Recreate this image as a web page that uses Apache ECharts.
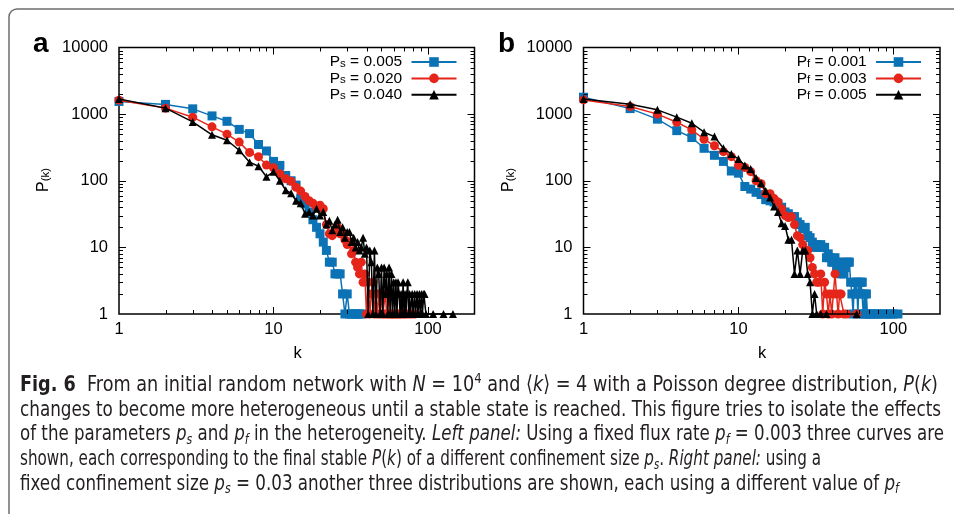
<!DOCTYPE html>
<html>
<head>
<meta charset="utf-8">
<script src="https://cdn.jsdelivr.net/npm/echarts@6/dist/echarts.min.js"></script>
<style>
  html, body { margin: 0; padding: 0; background: #fff; }
  #chart { width: 954px; height: 514px; }
</style>
</head>
<body>
<div id="chart"></div>
<script>
// Degree distributions P(k): number of nodes with degree k (N = 10^4)

// Panel a: fixed p_f = 0.003, varying p_s
const kA1 = [1,2,3,4,5,6,7,8,9,10,11,12,13,14,15,16,17,18,19,20,21,22,23,24,25,26,27,28,29,30,31,32,33,34,35,36,37];
const pA1 = [1550,1400,1200,940,780,590,510,350,280,195,170,120,100,86,55,45,34,26,20,16,12,9,6,6,4,4,4,2,1,2,1,1,1,1,1,1,1];

const kA2 = [1,2,3,4,5,6,7,8,9,10,11,12,13,14,15,16,17,18,19,20,21,22,23,24,25,26,27,28,29,30,
             31,32,33,34,35,36,37,38,39,40,41,42,43,44,45,46,47,48,49,50,51,52,53,54,55,56,57,58,59,60,
             62,63,65,66,68,70,72,75,78,82];
const pA2 = [1620,1230,900,645,500,380,265,230,172,157,127,107,98,80,70,58,50,46,40,43,38,22,16,15,17,20,16,16,13,11,
             12,8,9,6,5,4,6,3,4,1,3,1,2,3,1,2,1,2,1,2,1,1,2,1,1,2,1,1,1,1,
             1,1,1,1,1,1,1,1,1,1];

const kA3 = [1,2,3,4,5,6,7,8,9,10,11,12,13,14,15,16,17,18,19,20,21,22,23,24,25,26,27,28,29,30,
             31,32,33,34,35,36,37,38,39,40,41,42,43,44,45,46,47,48,49,50,51,52,53,54,55,56,57,58,59,60,
             61,62,63,64,65,66,67,68,69,70,71,72,73,74,75,76,77,79,80,82,83,85,86,88,89,91,92,94,95,97,
             108,126,145];
const pA3 = [1690,1230,765,490,405,287,190,165,115,136,100,72,65,50,46,32,34,30,38,30,34,22,25,18,22,26,17,20,14,17,
             17,12,14,10,12,9,10,14,8,10,1,9,6,1,9,1,5,4,1,5,1,5,2,4,1,5,1,4,1,3,
             1,3,1,3,2,1,2,1,3,1,2,1,2,3,1,2,1,2,1,2,1,2,1,2,1,2,1,2,2,1,
             1,1,1];

// Panel b: fixed p_s = 0.03, varying p_f
const kB1 = [1,2,3,4,5,6,7,8,9,10,11,12,13,14,15,16,17,18,19,20,21,22,23,24,25,26,27,28,29,30,
             31,32,33,34,35,36,37,38,39,40,41,42,43,44,45,46,47,48,49,50,51,52,53,54,55,56,57,58,59,60,
             61,62,63,64,65,66,67,68,70,72,75,78,80,84,88,92,96,100,107];
const pB1 = [1795,1210,840,565,445,307,241,195,140,130,82,75,67,62,52,50,48,45,40,34,32,29,29,24,22,19,20,15,14,12,
             10,11,10,11,10,10,7,8,7,6,6,7,5,6,6,4,5,4,5,6,6,6,3,2,1,3,2,3,1,3,
             2,3,3,1,2,1,2,1,1,1,1,1,1,1,1,1,1,1,1];

const kB2 = [1,2,3,4,5,6,7,8,9,10,11,12,13,14,15,16,17,18,19,20,21,22,23,24,25,26,27,28,29,30,
             31,32,33,34,35,36,37,38,39,40,41,42,43,44,45,46,48,50,58];
const pB2 = [1635,1300,1000,755,580,420,335,273,230,170,158,137,100,90,64,64,54,48,38,30,28,29,22,15,14,11,9,9,7,5,
             4,3,3,4,1,3,2,1,2,1,2,4,2,1,2,2,1,1,1];

const kB3 = [1,2,3,4,5,6,7,8,9,10,11,12,13,14,15,16,17,18,19,20,21,22,23,24,25,26,27,28,29,30,31,32,34,37,58];
const pB3 = [1690,1410,1160,900,730,535,460,307,252,212,169,150,110,92,70,56,41,34,23,21,13,13,4,9,4,9,9,4,3,1,2,1,1,1,1];

// Legend labels
const legendA = ['0.005', '0.020', '0.040'];
const legendB = ['0.001', '0.003', '0.005'];

// Axis ranges and tick values (log-log)
const X_MIN = 1, X_MAX = 200, Y_MIN = 1, Y_MAX = 10000;
const xTickVals = [1,2,3,4,5,6,7,8,9,10,20,30,40,50,60,70,80,90,100,200];
const yTickVals = [1,2,3,4,5,6,7,8,9,10,20,30,40,50,60,70,80,90,
                   100,200,300,400,500,600,700,800,900,1000,2000,3000,4000,5000,6000,7000,8000,9000,10000];

const BLUE = '#0b72b5', RED = '#e6251a', BLACK = '#000000';
const AX_FONT = 'Liberation Sans, Arial, Helvetica, sans-serif';
const CAP_FONT = 'Liberation Sans Narrow, DejaVu Sans Condensed, Liberation Sans, sans-serif';
const TICK_FONT_SIZE = 16.5;

function zip(ks, ps) { return ks.map((k, i) => [k, ps[i]]); }
function isDecade(v) { const l = Math.log10(v); return Math.abs(l - Math.round(l)) < 1e-6; }

const chart = echarts.init(document.getElementById('chart'), null, { renderer: 'canvas' });

const grids = [
  { left: 119, top: 47.5, width: 355.5, height: 266.5 },
  { left: 583.5, top: 47.5, width: 356.5, height: 266.5 }
];

// inward major/minor ticks on all four sides of a panel
function tickRenderer(params, api) {
  const lb = api.coord([X_MIN, Y_MIN]);
  const rt = api.coord([X_MAX, Y_MAX]);
  const left = lb[0], bottom = lb[1], right = rt[0], top = rt[1];
  const st = { stroke: '#000', lineWidth: 1 };
  const children = [];
  xTickVals.forEach(v => {
    if (v === X_MIN || v === X_MAX) return;
    const px = Math.round(api.coord([v, Y_MIN])[0]) + 0.5;
    const len = isDecade(v) ? 7 : 4;
    children.push({ type: 'line', shape: { x1: px, y1: bottom, x2: px, y2: bottom - len }, style: st });
    children.push({ type: 'line', shape: { x1: px, y1: top, x2: px, y2: top + len }, style: st });
  });
  yTickVals.forEach(v => {
    if (v === Y_MIN || v === Y_MAX) return;
    const py = Math.round(api.coord([X_MIN, v])[1]) + 0.5;
    const len = isDecade(v) ? 7 : 4;
    children.push({ type: 'line', shape: { x1: left, y1: py, x2: left + len, y2: py }, style: st });
    children.push({ type: 'line', shape: { x1: right, y1: py, x2: right - len, y2: py }, style: st });
  });
  return { type: 'group', children };
}

function xAxisCfg(gi) {
  return {
    type: 'log', logBase: 10, gridIndex: gi, min: X_MIN, max: X_MAX,
    axisLine: { show: false }, axisTick: { show: false }, splitLine: { show: false },
    axisLabel: {
      margin: 7, fontSize: TICK_FONT_SIZE, fontFamily: AX_FONT, color: '#000',
      formatter: v => isDecade(v) ? String(Math.round(v)) : ''
    }
  };
}
function yAxisCfg(gi) {
  return {
    type: 'log', logBase: 10, gridIndex: gi, min: Y_MIN, max: Y_MAX,
    axisLine: { show: false }, axisTick: { show: false }, splitLine: { show: false },
    axisLabel: {
      margin: 11, fontSize: TICK_FONT_SIZE, fontFamily: AX_FONT, color: '#000',
      formatter: v => isDecade(v) ? String(Math.round(v)) : ''
    }
  };
}

function lineSeries(name, gi, data, color, symbol, size, z) {
  return {
    type: 'line', name, xAxisIndex: gi, yAxisIndex: gi, data,
    symbol, symbolSize: size, clip: false, z,
    lineStyle: { color, width: 1.5 },
    itemStyle: { color },
    emphasis: { disabled: true }
  };
}

const legendRich = {
  p: { fontSize: 15.5, fontFamily: AX_FONT, color: '#000', lineHeight: 15 },
  s: { fontSize: 11.5, fontFamily: AX_FONT, color: '#000', lineHeight: 4, verticalAlign: 'bottom' }
};
function legendCfg(names, labels, sub, right) {
  const map = {};
  names.forEach((n, i) => { map[n] = '{p|P}{s|' + sub + '}{p| = ' + labels[i] + ' }'; });
  return {
    data: names, orient: 'vertical', right, top: 54, align: 'right',
    itemWidth: 45, itemHeight: 12, itemGap: 0.4, padding: 0,
    selectedMode: false,
    formatter: n => map[n],
    textStyle: { fontSize: 15.5, fontFamily: AX_FONT, color: '#000', rich: legendRich }
  };
}

const seriesNamesA = ['ps-1', 'ps-2', 'ps-3'];
const seriesNamesB = ['pf-1', 'pf-2', 'pf-3'];

// Caption lines (rich text) and the x where each line ends
const captionLines = [
  '{b|Fig. 6}  From an initial random network with {i|N} = 10{sup|4} and \u27e8{i|k}\u27e9 = 4 with a Poisson degree distribution, {i|P}({i|k})',
  'changes to become more heterogeneous until a stable state is reached. This figure tries to isolate the effects',
  'of the parameters {i|p}{sub|s} and {i|p}{sub|f} in the heterogeneity. {i|Left panel:} Using a fixed flux rate {i|p}{sub|f} = 0.003 three curves are',
  'shown, each corresponding to the final stable {i|P}({i|k}) of a different confinement size {i|p}{sub|s}. {i|Right panel:} using a',
  'fixed confinement size {i|p}{sub|s} = 0.03 another three distributions are shown, each using a different value of {i|p}{sub|f}'
];
const captionEnds = [938, 941, 944, 821, 899];
const CAP_X = 20, CAP_Y0 = 385, CAP_STEP = 24.8;
const CAP_SIZE = 22, CAP_SUB = 14.5;
const capRich = {
  b: { fontWeight: 'bold', fontSize: CAP_SIZE, fontFamily: CAP_FONT, fill: '#231f20', lineHeight: 26 },
  i: { fontStyle: 'italic', fontSize: CAP_SIZE, fontFamily: CAP_FONT, fill: '#231f20', lineHeight: 26 },
  sub: { fontStyle: 'italic', fontSize: CAP_SUB, fontFamily: CAP_FONT, fill: '#231f20', lineHeight: 13, verticalAlign: 'bottom' },
  sup: { fontSize: CAP_SUB, fontFamily: CAP_FONT, fill: '#231f20', lineHeight: 14, verticalAlign: 'top' }
};
const capFonts = {
  '': CAP_SIZE + 'px ' + CAP_FONT,
  b: 'bold ' + CAP_SIZE + 'px ' + CAP_FONT,
  i: 'italic ' + CAP_SIZE + 'px ' + CAP_FONT,
  sub: 'italic ' + CAP_SUB + 'px ' + CAP_FONT,
  sup: CAP_SUB + 'px ' + CAP_FONT
};
// width of a rich caption line, token by token
const mctx = document.createElement('canvas').getContext('2d');
function richWidth(str) {
  const re = /\{([a-z]+)\|([^}]*)\}/g;
  let w = 0, last = 0, m;
  const add = (font, s) => { if (s) { mctx.font = font; w += mctx.measureText(s).width; } };
  while ((m = re.exec(str)) !== null) {
    add(capFonts[''], str.slice(last, m.index));
    add(capFonts[m[1]], m[2]);
    last = re.lastIndex;
  }
  add(capFonts[''], str.slice(last));
  return w;
}

const graphics = [
  { type: 'rect', silent: true, shape: { x: 9, y: 9, width: 1000, height: 700, r: 8 },
    style: { fill: 'none', stroke: '#6e6e6e', lineWidth: 1.5 } },
  { type: 'text', silent: true, style: { x: 33, y: 44, text: 'a', fontSize: 28, fontWeight: 'bold', fontFamily: AX_FONT, fill: '#000', textVerticalAlign: 'middle' } },
  { type: 'text', silent: true, style: { x: 498, y: 44, text: 'b', fontSize: 28, fontWeight: 'bold', fontFamily: AX_FONT, fill: '#000', textVerticalAlign: 'middle' } },
  { type: 'text', silent: true, style: { x: 297.5, y: 353, text: 'k', fontSize: TICK_FONT_SIZE, fontFamily: AX_FONT, fill: '#000', textAlign: 'center', textVerticalAlign: 'middle' } },
  { type: 'text', silent: true, style: { x: 762, y: 353, text: 'k', fontSize: TICK_FONT_SIZE, fontFamily: AX_FONT, fill: '#000', textAlign: 'center', textVerticalAlign: 'middle' } }
];
[[44, 180], [509, 180]].forEach(pos => {
  graphics.push({
    type: 'text', silent: true, x: pos[0], y: pos[1], rotation: Math.PI / 2,
    style: {
      text: '{p|P}{s|(k)}', textAlign: 'center', textVerticalAlign: 'middle',
      rich: {
        p: { fontSize: 16, fontFamily: AX_FONT, fill: '#000', lineHeight: 16 },
        s: { fontSize: 11.5, fontFamily: AX_FONT, fill: '#000', lineHeight: 6, verticalAlign: 'bottom' }
      }
    }
  });
});
captionLines.forEach((t, i) => {
  const sx = (captionEnds[i] - CAP_X) / richWidth(t);
  graphics.push({
    type: 'text', silent: true, x: CAP_X, y: CAP_Y0 + i * CAP_STEP, scaleX: sx,
    style: {
      x: 0, y: 0, text: t, fontSize: CAP_SIZE, fontFamily: CAP_FONT, fill: '#231f20',
      textVerticalAlign: 'middle', lineHeight: 26, rich: capRich
    }
  });
});

chart.setOption({
  animation: false,
  backgroundColor: '#fff',
  grid: grids.map(g => Object.assign({ show: true, borderColor: '#000', borderWidth: 1.5, backgroundColor: 'transparent' }, g)),
  xAxis: [xAxisCfg(0), xAxisCfg(1)],
  yAxis: [yAxisCfg(0), yAxisCfg(1)],
  legend: [
    legendCfg(seriesNamesA, legendA, 's', 496.5),
    legendCfg(seriesNamesB, legendB, 'f', 32)
  ],
  series: [
    lineSeries(seriesNamesA[0], 0, zip(kA1, pA1), BLUE, 'rect', 9, 2),
    lineSeries(seriesNamesA[1], 0, zip(kA2, pA2), RED, 'circle', 9, 3),
    lineSeries(seriesNamesA[2], 0, zip(kA3, pA3), BLACK, 'triangle', 8, 4),
    lineSeries(seriesNamesB[0], 1, zip(kB1, pB1), BLUE, 'rect', 9, 2),
    lineSeries(seriesNamesB[1], 1, zip(kB2, pB2), RED, 'circle', 9, 3),
    lineSeries(seriesNamesB[2], 1, zip(kB3, pB3), BLACK, 'triangle', 8, 4),
    { type: 'custom', xAxisIndex: 0, yAxisIndex: 0, data: [[1, 1]], renderItem: tickRenderer, silent: true, z: 5, clip: false },
    { type: 'custom', xAxisIndex: 1, yAxisIndex: 1, data: [[1, 1]], renderItem: tickRenderer, silent: true, z: 5, clip: false }
  ],
  graphic: graphics
});
</script>
</body>
</html>
